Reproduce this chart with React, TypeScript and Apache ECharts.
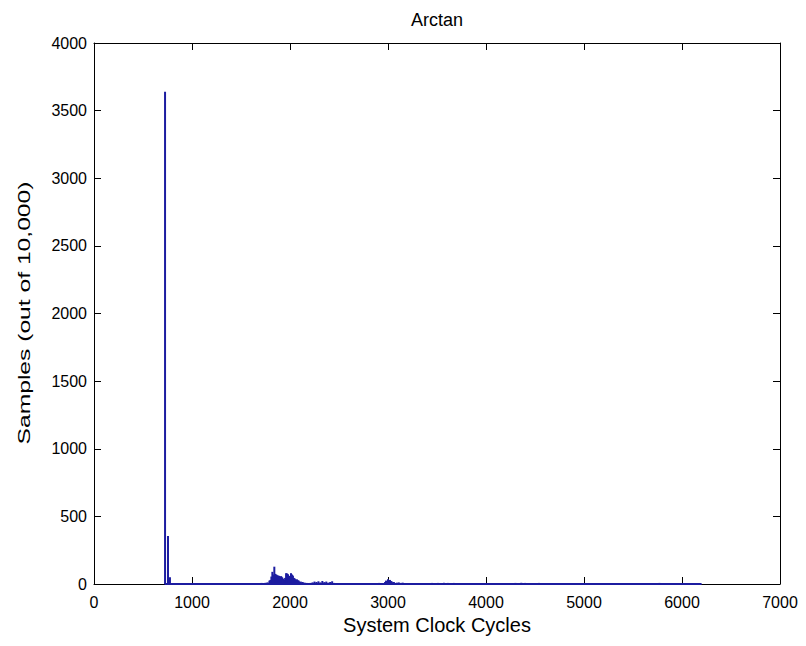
import React, { useEffect, useRef } from "react";
import * as echarts from "echarts";

// Histogram bins: cycle (bin centre) and sample count
const binCycles: number[] = [
  725, 755, 775,
  1550, 1570, 1590, 1610, 1630, 1650, 1670, 1690, 1710, 1730, 1750, 1770,
  1790, 1800, 1810, 1820, 1830, 1840, 1850, 1860, 1870, 1880, 1890, 1900,
  1910, 1920, 1930, 1940, 1950, 1960, 1970, 1980, 1990, 2000, 2010, 2020,
  2030, 2040, 2050, 2060, 2070, 2080, 2090, 2100, 2110, 2120, 2130, 2150,
  2170, 2190, 2210, 2230, 2250, 2270, 2290, 2310, 2330, 2350, 2370, 2390,
  2410, 2430, 2450,
  2890, 2910, 2930, 2970, 2980, 2990, 3000, 3010, 3020, 3030, 3040, 3060,
  3090, 3110, 3130, 3150, 3170,
  3430, 3450, 3470, 3490, 3510, 3530, 3550, 3570, 3590, 3610, 3630, 3650,
  3670, 3690, 3710, 3730, 3750,
  4280, 4300, 4320, 4340, 4360, 4380, 4400, 4420, 4440, 4520, 4540, 4560, 4580,
  5530, 5560, 5590, 5620, 5650, 5680, 5710, 5740, 5770, 5800, 5830, 5860,
  5890, 5920, 5940,
];
const binCounts: number[] = [
  3640, 355, 50,
  4, 6, 5, 7, 6, 8, 6, 7, 8, 6, 9, 12,
  25, 30, 55, 90, 70, 128, 75, 70, 65, 62, 60, 55,
  58, 50, 40, 30, 45, 80, 78, 72, 60, 55, 80, 70,
  62, 45, 40, 30, 35, 28, 25, 15, 18, 12, 15, 10,
  8, 6, 8, 12, 18, 15, 20, 12, 22, 14, 18, 10,
  15, 20, 8,
  6, 8, 6, 15, 25, 20, 35, 28, 30, 22, 18, 15,
  10, 12, 8, 10, 6,
  6, 8, 5, 7, 8, 6, 7, 9, 6, 8, 7, 6,
  8, 6, 7, 5, 6,
  6, 8, 7, 6, 9, 7, 8, 6, 7, 6, 8, 7, 6,
  5, 6, 4, 6, 5, 7, 6, 5, 8, 6, 7, 5,
  6, 5, 4,
];
// extent of the (mostly empty) histogram bins drawn along zero
const binRange: number[] = [720, 6200];

const xTicks = { min: 0, max: 7000, interval: 1000 };
const yTicks = { min: 0, max: 4000, interval: 500 };

const titleText = "Arctan";
const xName = "System Clock Cycles";
const yName = "Samples (out of 10,000)";

const BLUE = "#1c1ca0";
const FONT = "Liberation Sans";

export default function App() {
  const ref = useRef<HTMLDivElement>(null);
  useEffect(() => {
    if (!ref.current) return;
    const chart = echarts.init(ref.current, undefined, { renderer: "svg" });
    const barData = binCycles.map((c, i) => [c, binCounts[i]]);
    const axisCommon = {
      axisLine: { show: true, onZero: false, lineStyle: { color: "#000", width: 1 } },
      axisTick: { show: true, inside: true, length: 7, lineStyle: { color: "#000" } },
      splitLine: { show: false },
    };
    const fmt = (v: number) => String(v);
    chart.setOption({
      animation: false,
      backgroundColor: "#fff",
      textStyle: { fontFamily: FONT, color: "#000" },
      graphic: [
        {
          type: "text",
          x: 437,
          y: 20,
          style: {
            text: titleText,
            fontFamily: FONT,
            fontSize: 18,
            fill: "#000",
            align: "center",
            verticalAlign: "middle",
          },
        },
        {
          type: "text",
          x: 24,
          y: 313,
          rotation: Math.PI / 2,
          scaleX: 1.45,
          style: {
            text: yName,
            fontFamily: FONT,
            fontSize: 17,
            fill: "#000",
            align: "center",
            verticalAlign: "middle",
          },
        },
      ],
      grid: { left: 94, right: 26, top: 43, bottom: 62, containLabel: false },
      xAxis: [
        {
          type: "value",
          position: "bottom",
          ...xTicks,
          ...axisCommon,
          name: xName,
          nameLocation: "middle",
          nameGap: 23,
          nameTextStyle: { fontFamily: FONT, fontSize: 20, color: "#000" },
          axisLabel: { fontFamily: FONT, fontSize: 16, color: "#000", margin: 10, formatter: fmt },
        },
        {
          type: "value",
          position: "top",
          ...xTicks,
          ...axisCommon,
          axisLabel: { show: false },
        },
      ],
      yAxis: [
        {
          type: "value",
          position: "left",
          ...yTicks,
          ...axisCommon,
          axisLabel: { fontFamily: FONT, fontSize: 16, color: "#000", margin: 7, formatter: fmt },
        },
        {
          type: "value",
          position: "right",
          ...yTicks,
          ...axisCommon,
          axisLabel: { show: false },
        },
      ],
      series: [
        {
          type: "line",
          xAxisIndex: 0,
          yAxisIndex: 0,
          data: [[binRange[0], 0], [binRange[1], 0]],
          symbol: "none",
          lineStyle: { color: BLUE, width: 2 },
          z: 3,
        },
        {
          type: "bar",
          xAxisIndex: 0,
          yAxisIndex: 0,
          data: barData,
          barWidth: 2,
          barGap: "-100%",
          itemStyle: { color: BLUE },
          z: 2,
        },
      ],
    });
    return () => chart.dispose();
  }, []);
  return (
    <div
      ref={ref}
      style={{ position: "absolute", left: 0, top: 0, width: 806, height: 646 }}
    />
  );
}
